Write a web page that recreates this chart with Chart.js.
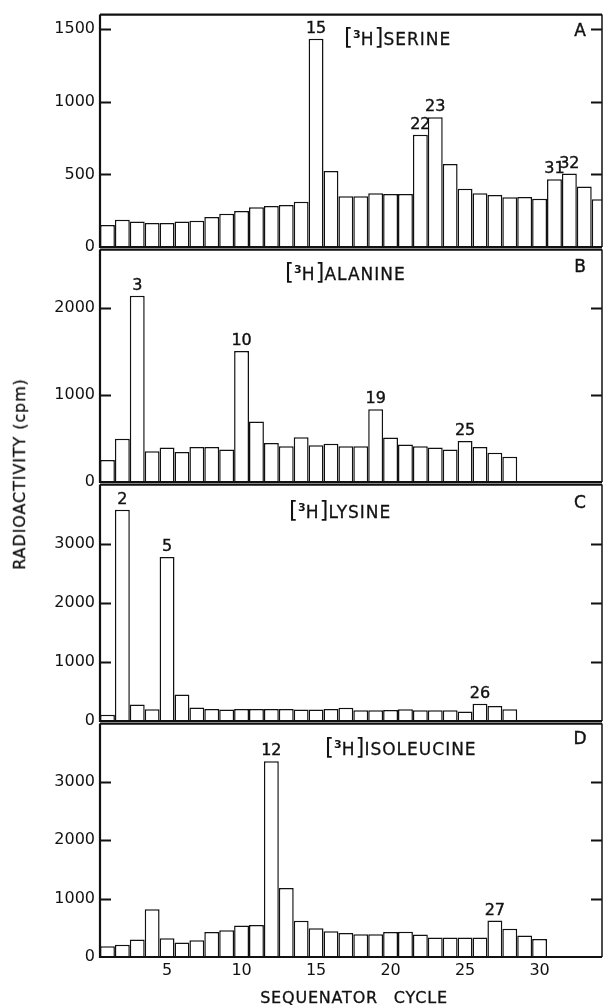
<!DOCTYPE html>
<html><head><meta charset="utf-8">
<script src="https://cdn.jsdelivr.net/npm/chart.js@4"></script>
<style>
html,body{margin:0;padding:0;background:#fff;width:603px;height:1005px;overflow:hidden;position:relative;}
canvas{position:absolute;left:0;}
.ttl{position:absolute;font-family:'DejaVu Sans';font-size:17px;color:#111;white-space:nowrap;letter-spacing:1px;transform:translateY(-50%);line-height:24px;-webkit-text-stroke:0.3px #111;}
.ttl .b{font-size:23px;letter-spacing:0;-webkit-text-stroke:0;}
.ttl sup{font-size:11px;vertical-align:7px;letter-spacing:0;font-weight:bold;-webkit-text-stroke:0;}
.let{position:absolute;font-family:'DejaVu Sans';font-size:17px;color:#111;transform:translate(-50%,-50%);line-height:20px;-webkit-text-stroke:0.4px #111;}
.ytitle{position:absolute;left:19.5px;top:474px;font-family:'DejaVu Sans';font-size:16px;color:#111;white-space:nowrap;letter-spacing:0.9px;transform:translate(-50%,-50%) rotate(-90deg);line-height:20px;-webkit-text-stroke:0.3px #111;}
.xtitle{position:absolute;left:354px;top:998px;font-family:'DejaVu Sans';font-size:16px;color:#111;white-space:nowrap;letter-spacing:0.8px;word-spacing:10px;transform:translate(-50%,-50%);line-height:20px;-webkit-text-stroke:0.3px #111;}
</style></head><body>
<canvas id="cA" width="603" height="262" style="top:0px"></canvas>
<canvas id="cB" width="603" height="262" style="top:235px"></canvas>
<canvas id="cC" width="603" height="266" style="top:470px"></canvas>
<canvas id="cD" width="603" height="296" style="top:709px"></canvas>

<div class="ttl" style="left:344px;top:37px"><span class="b">[</span><sup>3</sup>H<span class="b">]</span>SERINE</div>
<div class="ttl" style="left:285px;top:272px"><span class="b">[</span><sup>3</sup>H<span class="b">]</span>ALANINE</div>
<div class="ttl" style="left:289px;top:510px"><span class="b">[</span><sup>3</sup>H<span class="b">]</span>LYSINE</div>
<div class="ttl" style="left:325px;top:747px"><span class="b">[</span><sup>3</sup>H<span class="b">]</span>ISOLEUCINE</div>
<div class="let" style="left:580px;top:30px">A</div>
<div class="let" style="left:580px;top:266px">B</div>
<div class="let" style="left:580px;top:502px">C</div>
<div class="let" style="left:580px;top:738px">D</div>
<div class="ytitle">RADIOACTIVITY (cpm)</div>
<div class="xtitle">SEQUENATOR CYCLE</div>

<script>
// ---- data ----
const cycles = [1,2,3,4,5,6,7,8,9,10,11,12,13,14,15,16,17,18,19,20,21,22,23,24,25,26,27,28,29,30,31,32,33,34];
const serine = [152,188,175,166,166,175,181,206,229,247,274,283,290,311,1433,524,349,349,370,365,365,773,893,571,401,370,358,342,345,333,467,506,417,329];
const alanine = [252,496,2139,353,395,346,402,402,372,1504,695,447,410,515,421,440,410,410,835,511,432,410,395,372,470,402,335,289];
const lysine = [107,3574,280,200,2777,449,230,205,195,205,205,205,205,195,195,205,225,180,180,185,200,180,180,180,160,290,255,200];
const isoleucine = [186,209,299,818,321,248,288,429,457,541,547,3356,1184,620,491,440,412,389,389,429,434,384,333,333,333,333,626,485,367,310];
const peaksA = [15,22,23,31,32];
const peaksB = [3,10,19,25];
const peaksC = [2,5,26];
const peaksD = [12,27];
const yTicksA = [0,500,1000,1500];
const yTicksB = [0,1000,2000];
const yTicksC = [0,1000,2000,3000];
const yTicksD = [0,1000,2000,3000];
const xTickLabels = [5,10,15,20,25,30];

const FONT = 'DejaVu Sans';
Chart.defaults.font.family = FONT;
Chart.defaults.color = '#111';

const framePlugin = {
  id: 'frame',
  afterDatasetsDraw(chart) {
    const {ctx, chartArea} = chart;
    const {left, right, top, bottom} = chartArea;
    ctx.save();
    ctx.strokeStyle = '#111';
    ctx.lineWidth = 2.2;
    ctx.beginPath();
    ctx.moveTo(left, top); ctx.lineTo(left, bottom); ctx.lineTo(right, bottom);
    ctx.moveTo(left, top); ctx.lineTo(right, top);
    ctx.stroke();
    ctx.lineWidth = 1.5;
    ctx.beginPath(); ctx.moveTo(right, top); ctx.lineTo(right, bottom); ctx.stroke();
    const ys = chart.scales.y;
    ctx.lineWidth = 1.8;
    ys.ticks.forEach(t => {
      if (t.value === 0) return;
      const y = Math.round(ys.getPixelForValue(t.value)) + 0.5;
      ctx.beginPath();
      ctx.moveTo(left, y); ctx.lineTo(left + 11, y);
      ctx.moveTo(right - 11, y); ctx.lineTo(right, y);
      ctx.stroke();
    });
    ctx.restore();
  }
};

function makePanel(id, values, yMax, yTicks, peaks, padTop, padBottom, showX) {
  const peakPlugin = {
    id: 'peaks_' + id,
    afterDatasetsDraw(chart) {
      const ctx = chart.ctx;
      const meta = chart.getDatasetMeta(0);
      ctx.save();
      ctx.fillStyle = '#111';
      ctx.strokeStyle = '#111';
      ctx.lineWidth = 0.4;
      ctx.font = '16px "' + FONT + '"';
      ctx.textAlign = 'center';
      ctx.textBaseline = 'bottom';
      peaks.forEach(c => {
        const el = meta.data[cycles.indexOf(c)];
        ctx.fillText(String(c), el.x, el.y - 2);
        ctx.strokeText(String(c), el.x, el.y - 2);
      });
      ctx.restore();
    }
  };
  return new Chart(document.getElementById(id), {
    type: 'bar',
    data: {
      datasets: [{
        data: values.map((v, i) => ({x: cycles[i], y: v})),
        backgroundColor: '#fff',
        borderColor: '#111',
        borderWidth: 1.5,
        barPercentage: 1,
        categoryPercentage: 1,
        inflateAmount: 0
      }]
    },
    options: {
      responsive: false,
      animation: false,
      devicePixelRatio: 1,
      layout: {padding: {top: padTop, bottom: padBottom, left: 0, right: 1}},
      plugins: {legend: {display: false}, tooltip: {enabled: false}},
      scales: {
        x: {
          type: 'linear', min: 0.5, max: 34.19, offset: false, display: showX,
          grid: {display: false, drawTicks: false, offset: false},
          border: {display: false},
          ticks: {padding: 4, font: {size: 16}, color: '#111', autoSkip: false, maxRotation: 0, callback: v => String(v)},
          afterBuildTicks: s => { s.ticks = xTickLabels.map(v => ({value: v})); },
          afterFit: s => { if (showX) s.height = 48; }
        },
        y: {
          min: 0, max: yMax,
          grid: {display: false, drawTicks: false},
          border: {display: false},
          ticks: {padding: 5, font: {size: 16}, color: '#111', callback: v => String(v)},
          afterBuildTicks: s => { s.ticks = yTicks.map(v => ({value: v})); },
          afterFit: s => { s.width = 100; }
        }
      }
    },
    plugins: [framePlugin, peakPlugin]
  });
}

makePanel('cA', serine, 1600, yTicksA, peaksA, 12, 15, false);
makePanel('cB', alanine, 2670, yTicksB, peaksB, 12, 15, false);
makePanel('cC', lysine, 4000, yTicksC, peaksC, 12, 15, false);
makePanel('cD', isoleucine, 4000, yTicksD, peaksD, 12, 0, true);
</script>
</body></html>
